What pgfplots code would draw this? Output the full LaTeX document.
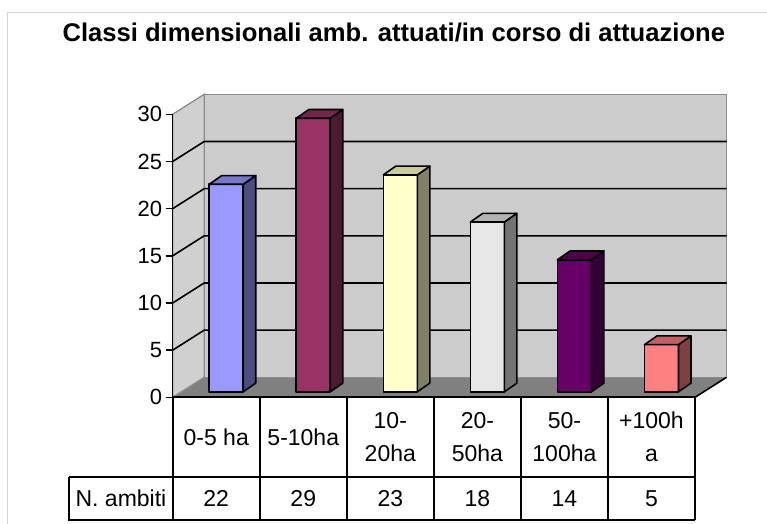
\documentclass[border=0pt]{standalone}
\usepackage{pgfplots}
\pgfplotsset{compat=1.18}
\usepackage{fontspec}
\setmainfont{Liberation Sans}

\definecolor{wallc}{HTML}{CCCCCC}
\definecolor{sidewallc}{HTML}{D0D0D0}
\definecolor{floorc}{HTML}{808080}
\definecolor{edgec}{HTML}{8C8C8C}
\definecolor{framec}{HTML}{D4D4D4}
\definecolor{bAf}{HTML}{9999FF}\definecolor{bAs}{HTML}{4D4D80}\definecolor{bAt}{HTML}{7777CC}
\definecolor{bBf}{HTML}{993366}\definecolor{bBs}{HTML}{4D1A33}\definecolor{bBt}{HTML}{73264D}
\definecolor{bCf}{HTML}{FFFFCC}\definecolor{bCs}{HTML}{808066}\definecolor{bCt}{HTML}{CCCC99}
\definecolor{bDf}{HTML}{E6E6E6}\definecolor{bDs}{HTML}{737373}\definecolor{bDt}{HTML}{B3B3B3}
\definecolor{bEf}{HTML}{660066}\definecolor{bEs}{HTML}{330033}\definecolor{bEt}{HTML}{4D004D}
\definecolor{bFf}{HTML}{FF8080}\definecolor{bFs}{HTML}{804040}\definecolor{bFt}{HTML}{C06060}

\pgfdeclareplotmark{emptymark}{}

% 3D bar drawn at each data point (c, v); 1 y-unit = 9.433pt
\pgfplotsset{
  prism/.style n args={3}{
    scatter, only marks, mark=emptymark,
    visualization depends on={rawy \as \vv},
    scatter/@pre marker code/.code={%
      \pgfmathsetmacro\hh{\vv*9.433}%
      \pgfmathsetmacro\yb{5.5-\hh}%
      \pgfmathsetmacro\ybs{5.5-\hh+8.7}%
      \filldraw[fill=#1, draw=black, line width=1.6pt, line join=round]
        (-7pt,\yb pt) rectangle (27pt,5.5pt);
      \filldraw[fill=#2, draw=black, line width=1.6pt, line join=round]
        (27pt,\yb pt) -- (39.5pt,\ybs pt) -- (39.5pt,14.2pt) -- (27pt,5.5pt) -- cycle;
      \filldraw[fill=#3, draw=black, line width=1.6pt, line join=round]
        (-7pt,5.5pt) -- (27pt,5.5pt) -- (39.5pt,14.2pt) -- (5.5pt,14.2pt) -- cycle;
    },
    scatter/@post marker code/.code={},
  }
}

\begin{document}
\begin{tikzpicture}
\path[use as bounding box] (-172.7pt,-125.7pt) rectangle (594.3pt,397.3pt);
% chart area frame
\draw[framec, line width=1.5pt] (-165.4pt,-130pt) -- (-165.4pt,385pt) -- (600pt,385pt);
% title
\node[anchor=base, font=\bfseries\fontsize{25.6pt}{30pt}\selectfont] at (221.1pt,355.6pt)
  {Classi dimensionali amb. attuati/in corso di attuazione};

\begin{axis}[
  x=87.05pt, y=9.433pt,
  xmin=0, xmax=6, ymin=0, ymax=30,
  clip=false,
  axis on top,
  hide x axis,
  axis y line*=left,
  y axis line style={-, black, line width=1.6pt},
  ytick={0,5,...,30},
  tick align=outside,
  major tick length=7pt,
  ytick style={black, line width=1.6pt},
  /pgf/number format/assume math mode=true,
  yticklabel style={font=\fontsize{22pt}{22pt}\selectfont},
]
% floor
\fill[floorc] (0,0) -- (6,0) -- (6.362,2.12) -- (0.362,2.12) -- cycle;
% back wall
\filldraw[fill=wallc, draw=edgec, line width=1.3pt] (0.362,2.12) rectangle (6.362,32.12);
% side wall
\filldraw[fill=sidewallc, draw=edgec, line width=1.3pt] (0,0) -- (0.362,2.12) -- (0.362,32.12) -- (0,30) -- cycle;
% floor right edge
\draw[black, line width=1.6pt] (6,0) -- (6.362,2.12);
% gridlines
\pgfplotsinvokeforeach{5,10,15,20,25}{
  \draw[black, line width=1.6pt] (0,#1) -- (0.362,#1+2.12) -- (6.362,#1+2.12);
}

% bars
\addplot[prism={bAf}{bAs}{bAt}] coordinates {(0.5,22)};
\addplot[prism={bBf}{bBs}{bBt}] coordinates {(1.5,29)};
\addplot[prism={bCf}{bCs}{bCt}] coordinates {(2.5,23)};
\addplot[prism={bDf}{bDs}{bDt}] coordinates {(3.5,18)};
\addplot[prism={bEf}{bEs}{bEt}] coordinates {(4.5,14)};
\addplot[prism={bFf}{bFs}{bFt}] coordinates {(5.5,5)};

% data table
\draw[black, line width=1.7pt] (0,0) -- (6,0);
\pgfplotsinvokeforeach{0,1,2,3,4,5,6}{
  \draw[black, line width=1.7pt] (#1,0) -- (#1,-13);
}
\draw[black, line width=1.7pt] (-1.188,-8.48) -- (6,-8.48);
\draw[black, line width=1.7pt] (-1.188,-8.48) -- (-1.188,-13) -- (6,-13);

\begin{scope}[every node/.style={font=\fontsize{23pt}{33.3pt}\selectfont, align=center}]
\node at (0.5,-4.2) {0-5 ha};
\node at (1.5,-4.2) {5-10ha};
\node at (2.5,-4.2) {10-\\20ha};
\node at (3.5,-4.2) {20-\\50ha};
\node at (4.5,-4.2) {50-\\100ha};
\node at (5.5,-4.2) {+100h\\a};
\node at (-0.594,-10.74) {N. ambiti};
\node at (0.5,-10.74) {22};
\node at (1.5,-10.74) {29};
\node at (2.5,-10.74) {23};
\node at (3.5,-10.74) {18};
\node at (4.5,-10.74) {14};
\node at (5.5,-10.74) {5};
\end{scope}
\end{axis}
\end{tikzpicture}
\end{document}
